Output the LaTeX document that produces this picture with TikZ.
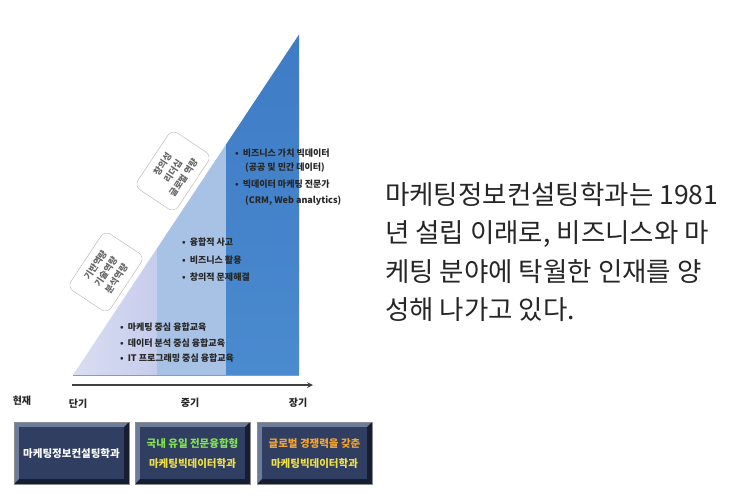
\documentclass[tikz,border=0pt]{standalone}
\usepackage{fontspec}
\setmainfont{Noto Sans CJK KR}
\begin{document}
\begin{tikzpicture}[x=1pt,y=-1pt,
  bul/.style={anchor=west,inner sep=0pt,font=\fontsize{9}{10}\selectfont\bfseries,text=black!85},
  rlab/.style={draw=black!30,rounded corners=7pt,rotate=56.4,minimum width=68pt,minimum height=48pt,align=center,inner sep=1pt,font=\fontsize{9}{12.5}\selectfont\bfseries,text=black!60},
  term/.style={inner sep=0pt,font=\fontsize{10}{12}\selectfont\bfseries,text=black!85},
  big/.style={anchor=west,inner sep=0pt,font=\fontsize{26.5}{30}\selectfont,text=black!85},
  boxt/.style={align=center,inner sep=0pt,font=\fontsize{10.5}{20}\selectfont\bfseries}]
\definecolor{bandA}{RGB}{198,204,236}
\definecolor{bandB}{RGB}{168,194,230}
\definecolor{bandC}{RGB}{74,138,206}
\definecolor{bandCt}{RGB}{62,124,198}
\definecolor{face}{RGB}{48,62,98}
\definecolor{bevL}{RGB}{110,124,156}
\definecolor{bevD}{RGB}{22,30,50}
\definecolor{gtxt}{RGB}{130,230,80}
\definecolor{ytxt}{RGB}{240,225,70}
\definecolor{otxt}{RGB}{245,165,50}
\useasboundingbox (0,0) rectangle (750,500);
\fill[white] (0,0) rectangle (750,500);
% triangle bands
\shade[left color=white!35!bandA,right color=bandA] (73,375) -- (157,248.4) -- (157,375) -- cycle;
\fill[bandB] (157,248.4) -- (226,144.5) -- (226,375) -- (157,375) -- cycle;
\shade[top color=bandCt,bottom color=bandC] (226,144.5) -- (299,34.5) -- (299,375) -- (226,375) -- cycle;
\draw[black!40,line width=0.4pt] (73,375) -- (299,375);
% rotated labels
\node[rlab] (l1) at (173,171) {창의성\\리더십\\글로벌 역량};
\node[rlab] (l2) at (106,272) {기반역량\\기술역량\\분석역량};
% band texts
\node[bul] (c1) at (235,153) {•\hspace{4pt}비즈니스 가치 빅데이터};
\node[bul] (c2) at (245,168) {(공공 및 민간 데이터)};
\node[bul] (c3) at (235,184) {•\hspace{4pt}빅데이터 마케팅 전문가};
\node[bul] (c4) at (245,201) {(CRM, Web analytics)};
\node[bul] (b1) at (182,242) {•\hspace{4pt}융합적 사고};
\node[bul] (b2) at (182,260) {•\hspace{4pt}비즈니스 활용};
\node[bul] (b3) at (182,277) {•\hspace{4pt}창의적 문제해결};
\node[bul] (a1) at (120,327) {•\hspace{4pt}마케팅 중심 융합교육};
\node[bul] (a2) at (120,343) {•\hspace{4pt}데이터 분석 중심 융합교육};
\node[bul] (a3) at (120,358) {•\hspace{4pt}IT 프로그래밍 중심 융합교육};
% time arrow
\coordinate (ts) at (72,385);
\coordinate (te) at (313,385);
\draw[black!75,line width=1.6pt,-stealth] (ts) -- (te);
\node[term] (now) at (22,401) {현재};
\node[term] (t1) at (78,404) {단기};
\node[term] (t2) at (190,403) {중기};
\node[term] (t3) at (298,403) {장기};
% bevel boxes
\foreach \x/\n in {14/bx1,135/bx2,257/bx3}{
  \fill[bevL] (\x,422) rectangle (\x+115,484);
  \fill[bevD] (\x+115,422) -- (\x+115,484) -- (\x,484) -- (\x+5,479) -- (\x+110,479) -- (\x+110,427) -- cycle;
  \fill[face] (\x+5,427) rectangle (\x+110,479);
  \draw[black!45,line width=0.5pt] (\x,422) rectangle (\x+115,484);
  \coordinate (\n) at (\x+57.5,454);
}
\node[boxt,text=white] (t_b1) at (bx1) {마케팅정보컨설팅학과};
\node[boxt] (t_b2) at (bx2) {\textcolor{gtxt}{국내 유일 전문융합형}\\\textcolor{ytxt}{마케팅빅데이터학과}};
\node[boxt] (t_b3) at (bx3) {\textcolor{otxt}{글로벌 경쟁력을 갖춘}\\\textcolor{ytxt}{마케팅빅데이터학과}};
% right text
\node[big] (r1) at (385,195) {마케팅정보컨설팅학과는 1981};
\node[big] (r2) at (385,234) {년 설립 이래로, 비즈니스와 마};
\node[big] (r3) at (385,272) {케팅 분야에 탁월한 인재를 양};
\node[big] (r4) at (385,310) {성해 나가고 있다.};
\end{tikzpicture}
\end{document}
